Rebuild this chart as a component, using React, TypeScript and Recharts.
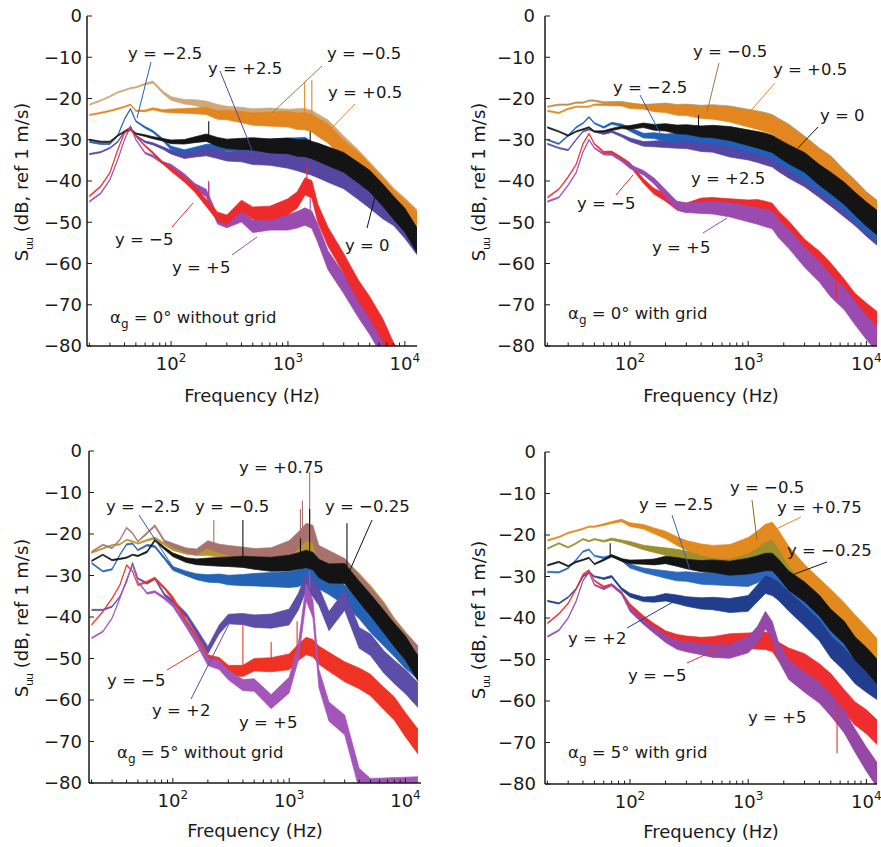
import React from "react";
import { ComposedChart, Area, XAxis, YAxis, ReferenceLine } from "recharts";

const FONT = "'DejaVu Sans', Arial, sans-serif";
const INK = "#1a1a1a";

// shared frequency grid (Hz) and half-width of the noisy band (dB)
const FREQ = [20, 25, 30, 35, 40, 45, 50, 60, 70, 85, 100, 130, 160, 200, 250, 300, 400, 500, 700, 1000, 1200, 1400, 1600, 1800, 2200, 3000, 4000, 5000, 6500, 8000, 10000, 12800];
const SPREAD = [0.15, 0.15, 0.15, 0.15, 0.15, 0.15, 0.15, 0.2, 0.25, 0.3, 0.45, 0.55, 0.7, 0.9, 1.05, 1.15, 1.35, 1.5, 1.7, 1.9, 2.0, 2.1, 2.1, 2.2, 2.3, 2.4, 2.5, 2.6, 2.7, 2.8, 2.9, 3.0];

const X_TICKS = [20, 30, 40, 50, 60, 70, 80, 90, 100, 200, 300, 400, 500, 600, 700, 800, 900, 1000, 2000, 3000, 4000, 5000, 6000, 7000, 8000, 9000, 10000];
const X_MAJOR = [100, 1000, 10000];
const Y_TICKS = [0, -10, -20, -30, -40, -50, -60, -70, -80];

// ---- panel 1: alpha 0 without grid
const P1_M05 = [-21.5, -20.5, -19.5, -18.5, -18, -17.5, -17.3, -16.5, -16, -18.5, -20, -20.8, -21, -21.5, -22.5, -23, -23.5, -24, -24, -24.5, -24.5, -24.5, -25, -26, -27.5, -31.5, -35, -38, -41.5, -44.5, -47, -50];
const P1_P05 = [-24, -23.5, -23, -22.5, -22, -21.5, -23, -23, -22.5, -23, -23, -23, -23, -23, -24, -24, -24.5, -25, -25, -25, -25.5, -25.5, -26, -27, -28.5, -32.5, -35.5, -38.5, -42, -45, -47.5, -50.5];
const P1_M25 = [-30.5, -31, -31, -29, -25, -22.5, -25.5, -27, -28, -30, -32, -33, -32.5, -32, -32, -31.5, -31.5, -31.5, -31.5, -31.5, -31.5, -31.5, -32.5, -33.5, -35, -37, -39.5, -41.5, -44.5, -47.5, -50.5, -54.5];
const P1_P25 = [-33.5, -33, -32, -30.5, -28, -27, -29, -30.5, -31, -32, -33, -34, -33.5, -33, -33.5, -34, -34, -34.5, -34.5, -35, -35.5, -36, -36.5, -37, -38, -39.5, -42, -44, -46.5, -48, -51, -55];
const P1_Y0 = [-30, -30.5, -30.5, -29, -28, -27.5, -28.5, -29, -29.5, -30, -30.5, -30.5, -30, -29.5, -30.5, -31, -31, -31, -31.5, -31.5, -32, -32, -32.5, -33, -34, -35.5, -38, -40, -43.5, -46.5, -49.5, -54.5];
const P1_P5 = [-45, -43, -39.7, -34.8, -30, -26.7, -30, -33.2, -34, -35.6, -36.4, -38.8, -41.3, -42.9, -49.4, -50.2, -48.6, -51, -50.2, -50, -49.4, -48.6, -49.4, -52.7, -59.2, -64.9, -70.6, -74.6, -80, -84, -88, -92];
const P1_M5 = [-43.7, -41.3, -38, -32.4, -28.3, -27.5, -29.1, -31.5, -33.2, -35.6, -37.2, -39.7, -42, -45.3, -48.6, -49.4, -46, -47.8, -47.8, -46.2, -44.6, -41.3, -42, -47.8, -53.5, -60, -66.5, -70.6, -76.2, -82, -86, -90];
const P1_SPIKE_F = [210, 210, 210, 1390, 1600, 1450, 1550, 1550];
const P1_SPIKE_FROM = [-29.5, -46, -45, -25.5, -26, -41, -49, -32.5];
const P1_SPIKE_TO = [-25.5, -40, -40.5, -16, -15.5, -36, -44, -28];
const P1_SPIKE_OF = ["y0", "m5", "p5", "p05", "p05", "m5", "p5", "y0"];

// ---- panel 2: alpha 0 with grid
const P2_M05 = [-22, -21.5, -21.5, -21, -21, -20.5, -20.5, -21, -21, -21, -21.5, -22, -22, -22, -22.5, -22.5, -23, -23, -23.5, -24.5, -25, -25.5, -26, -27, -28.5, -31.5, -34.5, -36.5, -40, -42.5, -45.5, -48];
const P2_P05 = [-23, -23.5, -22.5, -22, -22, -22, -21.5, -21.5, -21.5, -21.5, -22, -22, -22.5, -22.5, -23, -23, -23.5, -23.5, -24, -25, -25.5, -26, -26.5, -27.5, -29, -32, -35, -37, -40.5, -43, -46, -48.5];
const P2_P25 = [-31, -32, -32.5, -30, -28, -27.5, -28, -28.5, -28, -29, -30, -31, -31, -31, -31, -31, -31.5, -31.5, -32.5, -33, -33.5, -34, -34.5, -35.5, -37, -39, -41.5, -43.5, -46, -48, -50.5, -53];
const P2_M25 = [-30, -31, -29, -27, -26, -24.5, -26, -27, -26, -26.5, -27.5, -29, -29, -29.5, -29.5, -29, -29.5, -29.5, -30, -31, -31.5, -32, -32.5, -33.5, -35, -37.5, -40, -42, -44.5, -47, -49.5, -52];
const P2_Y0 = [-27, -28, -29, -28, -27.5, -27, -28, -28, -27.5, -27, -27, -26.5, -27, -27, -27.5, -27.5, -28, -28, -28.5, -29.5, -30, -30.5, -31, -32, -33.5, -35.5, -38.5, -40.5, -43, -45.5, -48, -50.5];
const P2_M5 = [-44, -42, -39, -36, -31, -28.5, -31, -33, -33, -34.5, -36, -40, -42.5, -44, -46, -46.5, -45.5, -45.5, -46, -46.5, -46.5, -47, -47.5, -49.5, -52, -56.5, -59.5, -62.5, -66.5, -70, -72.5, -75];
const P2_P5 = [-45, -44, -41, -38, -33, -30, -32, -33.5, -33.5, -35, -36.5, -38, -40, -43, -46, -46.5, -46.5, -46.5, -47, -48, -48.5, -49, -49.5, -51.5, -54, -58.5, -62, -65.5, -68.5, -72, -75.5, -79];
const P2_SPIKE_F = [5570, 380];
const P2_SPIKE_FROM = [-63, -28];
const P2_SPIKE_TO = [-68.5, -24];
const P2_SPIKE_OF = ["m5", "y0"];

// ---- panel 3: alpha 5 without grid
const P3_M05 = [-24.5, -23.5, -22.7, -22.5, -21.4, -21.8, -22.3, -21.5, -21, -22.5, -23.5, -24.3, -24.5, -24.3, -24.5, -24.7, -25, -25.5, -25.5, -25, -24, -23, -23, -25, -26.5, -28.5, -32, -35, -39, -43, -46.5, -50];
const P3_P075 = [-24.3, -22.6, -23.4, -21.4, -18.5, -19.8, -21.8, -19.8, -18, -21.8, -22.7, -23.9, -24.3, -22.5, -23.5, -23.9, -24.5, -25, -25, -23.5, -21.5, -19.5, -20, -25, -26.3, -28.3, -32.3, -35.5, -39.5, -43.5, -46.7, -50];
const P3_M25 = [-27, -29, -28.5, -25, -22.5, -22.3, -23.9, -22.7, -23, -25.9, -28.3, -29.5, -30.3, -30.7, -30.7, -31.1, -31.1, -31, -31, -31, -30.7, -29.5, -29.5, -31, -32.3, -34.7, -37.9, -41.1, -44.3, -46.7, -49.5, -52];
const P3_P2 = [-38.3, -38.3, -37.5, -35.1, -31.5, -27, -30.7, -31.9, -30.7, -34.7, -36.3, -39.5, -43.5, -48, -43, -40.5, -40.5, -41, -41, -40, -36.3, -31.5, -33, -35, -41, -36, -45, -46.7, -50.8, -53.2, -55.6, -58.8];
const P3_M025 = [-26.5, -25, -26.3, -26, -25.7, -25, -25.3, -24.3, -21.5, -23.5, -25, -26.3, -26.7, -26.7, -26.7, -26.7, -26.7, -27, -27.3, -27, -26.5, -26, -26.5, -28.3, -29.5, -29.5, -33.9, -37.1, -41.1, -44.3, -47.5, -52.4];
const P3_M5 = [-41.9, -38.7, -35.5, -32.3, -27.5, -29, -32.3, -31.5, -30.7, -33.1, -35.5, -41.1, -45.1, -50, -50.8, -52.8, -53, -51.5, -51.5, -50.8, -48.5, -47, -47.5, -49.2, -50.8, -53.2, -54.8, -56.4, -59.6, -62, -66, -70];
const P3_P5 = [-45.1, -43.5, -40.3, -35.5, -31, -27.5, -31.5, -34.3, -33.9, -35.5, -37.1, -41.9, -45.9, -50.8, -51.6, -54, -56.4, -56.4, -60.4, -56.4, -48.4, -34, -38, -54.8, -62.8, -66, -79, -81.5, -81.5, -81.5, -81.5, -81.5];
const P3_SPIKE_F = [225, 400, 400, 1300, 1500, 1500, 1250, 3140, 1170, 700, 1500, 1250];
const P3_SPIKE_FROM = [-22.5, -26.7, -53, -21, -19, -25, -26.5, -29.5, -48.5, -51.5, -33, -21];
const P3_SPIKE_TO = [-16.6, -16.6, -42, -12, -5, -14, -20.5, -17.4, -41, -46, -29, -14];
const P3_SPIKE_OF = ["p075", "m025", "m5", "p075", "p075", "m025", "m025", "m025", "m5", "m5", "p5", "p075"];

// ---- panel 4: alpha 5 with grid
const P4_M05 = [-23.3, -22, -23, -22, -21, -21.5, -21, -21.5, -21, -21.5, -22, -23, -23.5, -24, -24.5, -25, -25, -25, -25, -24.5, -23.5, -22.5, -22.5, -24.5, -27.5, -31, -34, -37, -40.5, -43.5, -46.5, -50];
const P4_P075 = [-21.3, -20.5, -19.5, -19, -18.5, -18, -18, -17.5, -17, -16.5, -17.5, -18, -19, -20, -21.5, -22.5, -23.5, -24, -24, -22.5, -21, -19.5, -19, -21, -25, -29.5, -33, -35.7, -39, -42, -45, -48.5];
const P4_M25 = [-28.9, -29, -28, -26, -24, -23.5, -25, -25.5, -25, -26, -27.5, -28.5, -29, -29.5, -30, -30, -30.5, -30.5, -30.5, -30.5, -29.5, -28.5, -28.5, -30, -32.5, -35.5, -39, -42.5, -46, -49.5, -52, -55];
const P4_P2 = [-35.9, -36.5, -35, -33, -30, -29, -30, -30.5, -30, -33, -34.5, -35.5, -35.5, -35, -35.5, -36, -36.5, -36.5, -37, -36.5, -34, -32, -32.5, -33.5, -36, -39.5, -43, -47, -50, -53, -55, -57];
const P4_M025 = [-27.3, -26.5, -27.5, -26.5, -26, -25.5, -27, -26, -25, -26, -26.5, -26.5, -26.5, -26, -26.5, -27, -27.5, -27.5, -28, -27.5, -27, -26.5, -26.5, -28, -31, -33.7, -37, -40.5, -43.5, -47.3, -50, -53.4];
const P4_M5 = [-41.3, -39, -36.5, -33, -29.5, -28.5, -31, -32.5, -32, -34, -37, -40, -42, -44, -45, -45.5, -46, -46, -45.5, -45.5, -45.5, -45.5, -46, -48, -49.5, -51, -53.5, -56, -60, -63, -65, -68];
const P4_P5 = [-44.5, -43, -40, -36, -31, -29, -32, -33, -32, -34, -38, -41, -43, -45, -46.5, -47, -47.5, -48, -48, -46.5, -44, -40.5, -43, -48, -52.5, -55.5, -58, -61, -65, -69.5, -74, -78.5];
const P4_SPIKE_F = [5650, 68];
const P4_SPIKE_FROM = [-57, -25];
const P4_SPIKE_TO = [-72.6, -22];
const P4_SPIKE_OF = ["m5", "m025"];

type SeriesDef = { key: string; color: string; values: number[] };

const PANELS = [
  {
    box: { left: 0, top: 0, width: 440, height: 425 },
    plot: { l: 87, t: 16, r: 417, b: 346 },
    domain: [19.1, 12700],
    gap: 5,
    series: [
      { key: "m05", color: "#CFA878", values: P1_M05 },
      { key: "p05", color: "#E3861F", values: P1_P05 },
      { key: "m25", color: "#2160B8", values: P1_M25 },
      { key: "p25", color: "#5646A4", values: P1_P25 },
      { key: "y0", color: "#141414", values: P1_Y0 },
      { key: "p5", color: "#9A4BAF", values: P1_P5 },
      { key: "m5", color: "#EE2A2A", values: P1_M5 },
    ],
    spikes: { f: P1_SPIKE_F, from: P1_SPIKE_FROM, to: P1_SPIKE_TO, of: P1_SPIKE_OF },
  },
  {
    box: { left: 440, top: 0, width: 441, height: 425 },
    plot: { l: 545, t: 16, r: 877, b: 346 },
    domain: [19.1, 12300],
    gap: 10,
    series: [
      { key: "m05", color: "#C0904A", values: P2_M05 },
      { key: "p05", color: "#E3861F", values: P2_P05 },
      { key: "p25", color: "#5646A4", values: P2_P25 },
      { key: "m25", color: "#2160B8", values: P2_M25 },
      { key: "y0", color: "#141414", values: P2_Y0 },
      { key: "m5", color: "#EE2A2A", values: P2_M5 },
      { key: "p5", color: "#9A4BAF", values: P2_P5 },
    ],
    spikes: { f: P2_SPIKE_F, from: P2_SPIKE_FROM, to: P2_SPIKE_TO, of: P2_SPIKE_OF },
  },
  {
    box: { left: 0, top: 430, width: 440, height: 417 },
    plot: { l: 89, t: 451, r: 421, b: 783 },
    domain: [19, 13600],
    gap: 7,
    series: [
      { key: "m05", color: "#B8952E", values: P3_M05 },
      { key: "p075", color: "#A8726C", values: P3_P075 },
      { key: "m25", color: "#2462B5", values: P3_M25 },
      { key: "p2", color: "#5B4DA8", values: P3_P2 },
      { key: "m025", color: "#141414", values: P3_M025 },
      { key: "m5", color: "#EE3324", values: P3_M5 },
      { key: "p5", color: "#A455BA", values: P3_P5 },
    ],
    spikes: { f: P3_SPIKE_F, from: P3_SPIKE_FROM, to: P3_SPIKE_TO, of: P3_SPIKE_OF },
  },
  {
    box: { left: 440, top: 430, width: 441, height: 417 },
    plot: { l: 545, t: 452, r: 877, b: 784 },
    domain: [19.1, 12300],
    gap: 9,
    series: [
      { key: "m05", color: "#9C8E2C", values: P4_M05 },
      { key: "p075", color: "#E38A1E", values: P4_P075 },
      { key: "m25", color: "#2A67BD", values: P4_M25 },
      { key: "p2", color: "#213E8E", values: P4_P2 },
      { key: "m025", color: "#141414", values: P4_M025 },
      { key: "m5", color: "#EE2E2E", values: P4_M5 },
      { key: "p5", color: "#9548A8", values: P4_P5 },
    ],
    spikes: { f: P4_SPIKE_F, from: P4_SPIKE_FROM, to: P4_SPIKE_TO, of: P4_SPIKE_OF },
  },
];

// annotation labels and pointer lines (page pixels)
const LABELS = [
  { t: "y = −2.5", x: 128, y: 59 }, { t: "y = +2.5", x: 208, y: 74 }, { t: "y = −0.5", x: 327, y: 59 },
  { t: "y = +0.5", x: 328, y: 98 }, { t: "y = 0", x: 345, y: 251 }, { t: "y = −5", x: 115, y: 245 },
  { t: "y = +5", x: 172, y: 273 },
  { t: "y = −0.5", x: 693, y: 57 }, { t: "y = +0.5", x: 773, y: 75 }, { t: "y = −2.5", x: 613, y: 93 },
  { t: "y = 0", x: 820, y: 121 }, { t: "y = +2.5", x: 691, y: 184 }, { t: "y = −5", x: 577, y: 209 },
  { t: "y = +5", x: 652, y: 253 },
  { t: "y = +0.75", x: 239, y: 473 }, { t: "y = −2.5", x: 106, y: 512 }, { t: "y = −0.5", x: 195, y: 512 },
  { t: "y = −0.25", x: 325, y: 512 }, { t: "y = −5", x: 107, y: 686 }, { t: "y = +2", x: 152, y: 716 },
  { t: "y = +5", x: 239, y: 728 },
  { t: "y = −0.5", x: 730, y: 493 }, { t: "y = +0.75", x: 777, y: 513 }, { t: "y = −2.5", x: 639, y: 510 },
  { t: "y = −0.25", x: 787, y: 556 }, { t: "y = +2", x: 568, y: 644 }, { t: "y = −5", x: 628, y: 681 },
  { t: "y = +5", x: 748, y: 723 },
];

const LEADERS = [
  { x1: 151, y1: 62, x2: 137, y2: 118, c: "#2160B8" }, { x1: 220, y1: 71, x2: 252, y2: 150, c: "#5646A4" },
  { x1: 322, y1: 66, x2: 272, y2: 113, c: "#A07A3A" }, { x1: 355, y1: 104, x2: 330, y2: 130, c: "#E3861F" },
  { x1: 367, y1: 228, x2: 375, y2: 197, c: "#141414" }, { x1: 172, y1: 227, x2: 193, y2: 203, c: "#EE2A2A" },
  { x1: 232, y1: 255, x2: 257, y2: 237, c: "#9A4BAF" },
  { x1: 719, y1: 63, x2: 707, y2: 112, c: "#A07A3A" }, { x1: 775, y1: 83, x2: 747, y2: 115, c: "#E3861F" },
  { x1: 640, y1: 95, x2: 660, y2: 133, c: "#2160B8" }, { x1: 818, y1: 127, x2: 798, y2: 148, c: "#141414" },
  { x1: 616, y1: 195, x2: 633, y2: 175, c: "#EE2A2A" }, { x1: 703, y1: 233, x2: 727, y2: 218, c: "#9A4BAF" },
  { x1: 139, y1: 515, x2: 173, y2: 567, c: "#2462B5" }, { x1: 372, y1: 520, x2: 350, y2: 570, c: "#141414" },
  { x1: 167, y1: 670, x2: 200, y2: 650, c: "#EE3324" }, { x1: 191, y1: 699, x2: 232, y2: 618, c: "#5B4DA8" },
  { x1: 752, y1: 500, x2: 757, y2: 540, c: "#8A6A20" }, { x1: 801, y1: 517, x2: 770, y2: 532, c: "#E38A1E" },
  { x1: 672, y1: 515, x2: 690, y2: 570, c: "#2A67BD" }, { x1: 827, y1: 562, x2: 792, y2: 575, c: "#141414" },
  { x1: 627, y1: 628, x2: 673, y2: 602, c: "#213E8E" }, { x1: 687, y1: 663, x2: 733, y2: 642, c: "#EE2E2E" },
];

const CAPTIONS = [
  { x: 110, y: 323, angle: "0", grid: "without grid" },
  { x: 568, y: 319, angle: "0", grid: "with grid" },
  { x: 117, y: 758, angle: "5", grid: "without grid" },
  { x: 568, y: 758, angle: "5", grid: "with grid" },
];

const AXIS_TITLES = [
  { fx: 252, fy: 402, sx: 28, sy: 182 },
  { fx: 711, fy: 402, sx: 485, sy: 182 },
  { fx: 255, fy: 837, sx: 28, sy: 618 },
  { fx: 711, fy: 838, sx: 485, sy: 620 },
];

const buildRows = (series: SeriesDef[]) =>
  FREQ.map((f, i) => {
    const row: Record<string, any> = { f };
    series.forEach((s) => {
      const v = s.values[i];
      row[s.key] = [v - SPREAD[i], v + SPREAD[i]];
    });
    return row;
  });

const fmtY = (v: number) => (v === 0 ? "0" : "−" + Math.abs(v));

const BottomTick = (props: any) => {
  const { x, y, payload } = props;
  const major = X_MAJOR.includes(payload.value);
  return (
    <g>
      <line x1={x} y1={y} x2={x} y2={y - (major ? 5 : 3.5)} stroke={INK} strokeWidth={1} />
      {major && (
        <text x={x} y={y + 24} textAnchor="middle" fontSize={18} fontFamily={FONT} fill={INK}>
          10
          <tspan dy={-8} fontSize={12}>
            {Math.round(Math.log10(payload.value))}
          </tspan>
        </text>
      )}
    </g>
  );
};

const TopTick = (props: any) => {
  const { x, y, payload } = props;
  const major = X_MAJOR.includes(payload.value);
  return <line x1={x} y1={y} x2={x} y2={y + (major ? 5 : 3.5)} stroke={INK} strokeWidth={1} />;
};

const makeLeftTick = (gap: number) => (props: any) => {
  const { x, y, payload } = props;
  return (
    <g>
      <line x1={x} y1={y} x2={x + 5} y2={y} stroke={INK} strokeWidth={1} />
      <text x={x - gap} y={y} dy="0.36em" textAnchor="end" fontSize={18} fontFamily={FONT} fill={INK}>
        {fmtY(payload.value)}
      </text>
    </g>
  );
};

const RightTick = (props: any) => {
  const { x, y } = props;
  return <line x1={x} y1={y} x2={x - 5} y2={y} stroke={INK} strokeWidth={1} />;
};

const SpectrumPanel = ({ panel }: { panel: any }) => {
  const { box, plot, domain, gap, series, spikes } = panel;
  const data = buildRows(series);
  const colorOf = (k: string) => series.find((s: SeriesDef) => s.key === k)?.color ?? INK;
  const axisLine = { stroke: INK, strokeWidth: 1.5 };
  return (
    <div style={{ position: "absolute", left: box.left, top: box.top }}>
      <ComposedChart
        width={box.width}
        height={box.height}
        data={data}
        margin={{
          top: plot.t - box.top,
          right: box.left + box.width - plot.r,
          bottom: box.top + box.height - plot.b - 40,
          left: plot.l - box.left - 60,
        }}
      >
        <XAxis
          dataKey="f"
          type="number"
          scale="log"
          domain={domain}
          allowDataOverflow
          ticks={X_TICKS}
          interval={0}
          tickLine={false}
          tickSize={0}
          tickMargin={0}
          axisLine={axisLine}
          tick={(p: any) => <BottomTick {...p} />}
          height={40}
        />
        <XAxis
          xAxisId="top"
          orientation="top"
          dataKey="f"
          type="number"
          scale="log"
          domain={domain}
          allowDataOverflow
          ticks={X_TICKS}
          interval={0}
          tickLine={false}
          tickSize={0}
          tickMargin={0}
          axisLine={axisLine}
          tick={(p: any) => <TopTick {...p} />}
          height={0}
        />
        <YAxis
          type="number"
          domain={[-80, 0]}
          allowDataOverflow
          ticks={Y_TICKS}
          interval={0}
          tickLine={false}
          tickSize={0}
          tickMargin={0}
          axisLine={axisLine}
          tick={makeLeftTick(gap)}
          width={60}
        />
        <YAxis
          yAxisId="right"
          orientation="right"
          type="number"
          domain={[-80, 0]}
          allowDataOverflow
          ticks={Y_TICKS}
          interval={0}
          tickLine={false}
          tickSize={0}
          tickMargin={0}
          axisLine={axisLine}
          tick={(p: any) => <RightTick {...p} />}
          width={0}
        />
        {series.map((s: SeriesDef) => (
          <Area
            key={s.key}
            dataKey={s.key}
            type="linear"
            stroke={s.color}
            strokeWidth={0.7}
            fill={s.color}
            fillOpacity={1}
            dot={false}
            activeDot={false}
            isAnimationActive={false}
          />
        ))}
        {spikes.f.map((f: number, i: number) => (
          <ReferenceLine
            key={"s" + i}
            segment={[
              { x: f, y: spikes.from[i] },
              { x: f, y: spikes.to[i] },
            ]}
            stroke={colorOf(spikes.of[i])}
            strokeWidth={1.1}
          />
        ))}
      </ComposedChart>
    </div>
  );
};

export default function App() {
  return (
    <div style={{ position: "absolute", left: 0, top: 0, width: 881, height: 847, background: "#fff" }}>
      {PANELS.map((p, i) => (
        <SpectrumPanel key={i} panel={p} />
      ))}
      <svg width={881} height={847} style={{ position: "absolute", left: 0, top: 0, pointerEvents: "none" }}>
        {LEADERS.map((l, i) => (
          <line key={"l" + i} x1={l.x1} y1={l.y1} x2={l.x2} y2={l.y2} stroke={l.c} strokeWidth={1} />
        ))}
        {LABELS.map((l, i) => (
          <text key={"t" + i} x={l.x} y={l.y} fontSize={16.5} fontFamily={FONT} fill={INK}>
            {l.t}
          </text>
        ))}
        {CAPTIONS.map((c, i) => (
          <text key={"c" + i} x={c.x} y={c.y} fontSize={16.5} fontFamily={FONT} fill={INK}>
            α<tspan dy={5} fontSize={12}>g</tspan>
            <tspan dy={-5}>{` = ${c.angle}° ${c.grid}`}</tspan>
          </text>
        ))}
        {AXIS_TITLES.map((a, i) => (
          <g key={"a" + i}>
            <text x={a.fx} y={a.fy} textAnchor="middle" fontSize={18} fontFamily={FONT} fill={INK}>
              Frequency (Hz)
            </text>
            <text
              transform={`translate(${a.sx},${a.sy}) rotate(-90)`}
              textAnchor="middle"
              fontSize={18}
              fontFamily={FONT}
              fill={INK}
            >
              S
              <tspan dy={5} fontSize={11} letterSpacing={-1}>
                uu
              </tspan>
              <tspan dy={-5}> (dB, ref 1 m/s)</tspan>
            </text>
          </g>
        ))}
      </svg>
    </div>
  );
}
